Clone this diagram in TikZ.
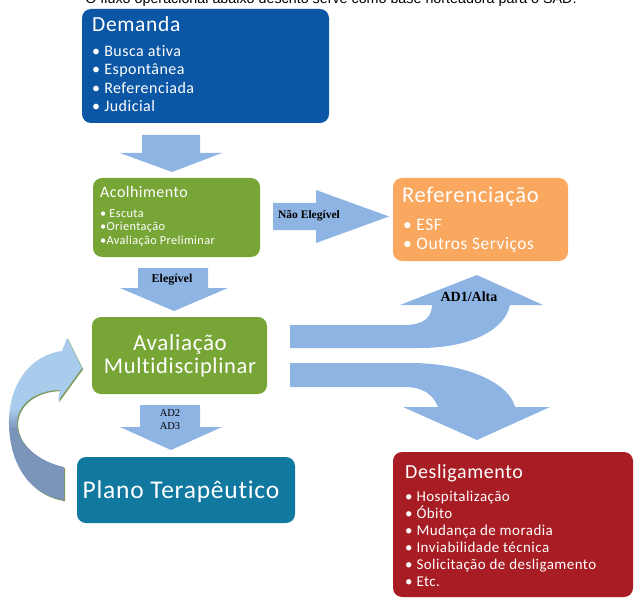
\documentclass[tikz,border=0pt]{standalone}
\usepackage{fontspec}
\setmainfont{Carlito}[LetterSpace=3, Ligatures={NoCommon}]
\newfontfamily\lblfont{Liberation Serif}
\newfontfamily\capfont{Liberation Sans}
\usepackage{xcolor}
\usepackage{tikz}
\usetikzlibrary{calc}
\definecolor{demBlue}{HTML}{0C57A5}
\definecolor{acoGreen}{HTML}{77A637}
\definecolor{refOrange}{HTML}{FAA75F}
\definecolor{planTeal}{HTML}{1178A0}
\definecolor{desRed}{HTML}{A81C23}
\definecolor{arrBlue}{HTML}{8EB4E3}
\definecolor{loopLight}{HTML}{A9CCEC}
\definecolor{loopDark}{HTML}{7B95BA}
\definecolor{loopEdge}{HTML}{7E9A5E}
\pgfdeclareverticalshading{loopshade}{100bp}{color(0bp)=(loopDark); color(47bp)=(loopDark); color(53bp)=(loopLight); color(100bp)=(loopLight)}
\tikzset{
  box/.style={rounded corners=9pt, inner sep=0pt},
  ttl/.style={text=white, anchor=base west, inner sep=0pt},
  itm/.style={text=white, anchor=base west, inner sep=0pt},
  ctr/.style={text=white, anchor=base, inner sep=0pt},
  lbl/.style={inner sep=0pt, font=\lblfont\bfseries\fontsize{12}{14}\selectfont},
  blockarrow/.style={fill=arrBlue}
}

\begin{document}
\begin{tikzpicture}[x=1pt,y=-1pt]
\useasboundingbox (0,0) rectangle (635,599);
\clip (0,0) rectangle (635,599);
% caption (cut by the top edge)
\node[anchor=base, inner sep=0pt, font=\capfont\fontsize{14.3}{16}\selectfont] (caption) at (331,3.5) {O fluxo operacional abaixo descrito serve como base norteadora para o SAD.};
% Demanda
\node[box, fill=demBlue, minimum width=247pt, minimum height=114pt] (demanda) at (205.5,66) {};
\node[ttl, font=\fontsize{21.5}{26}\selectfont] (demandaT) at (92,32) {Demanda};
\foreach \t [count=\i] in {Busca ativa, Espontânea, Referenciada, Judicial}
  \node[itm, font=\fontsize{16}{19}\selectfont] (demanda\i) at (92,38+18.5*\i) {• \t};
% arrow
\fill[blockarrow] (142,135) -- (200,135) -- (200,153) -- (222,153) -- (172,172) -- (120,153) -- (142,153) -- cycle;
% Acolhimento
\node[box, fill=acoGreen, minimum width=167pt, minimum height=79pt] (acolh) at (176.5,217.5) {};
\node[ttl, font=\fontsize{16}{19}\selectfont] (acolhT) at (100,198) {Acolhimento};
\foreach \t [count=\i] in {• Escuta, •Orientação, •Avaliação Preliminar}
  \node[itm, font=\fontsize{12.3}{14}\selectfont] (acolh\i) at (100,203.5+13.7*\i) {\t};
% Nao elegivel
\fill[blockarrow] (273,203) -- (316,203) -- (316,190) -- (389,216.5) -- (316,243) -- (316,230) -- (273,230) -- cycle;
\node[lbl, font=\lblfont\bfseries\fontsize{11.5}{13}\selectfont] (naoEleg) at (309,216) {Não Elegível};
% Referenciacao
\node[box, fill=refOrange, minimum width=175pt, minimum height=83pt] (refer) at (480.5,219.5) {};
\node[ttl, font=\fontsize{22.5}{27}\selectfont] (referT) at (402,203) {Referenciação};
\foreach \t [count=\i] in {ESF, Outros Serviços}
  \node[itm, font=\fontsize{17.5}{21}\selectfont] (refer\i) at (403,211+19*\i) {• \t};
% Elegivel
\fill[blockarrow] (138,268) -- (208,268) -- (208,288) -- (228,288) -- (174,311) -- (120,288) -- (138,288) -- cycle;
\node[lbl] (eleg) at (172,280) {Elegível};
% Avaliacao Multidisciplinar
\node[box, fill=acoGreen, minimum width=175pt, minimum height=77pt] (aval) at (179.5,355.5) {};
\node[ctr, font=\fontsize{23}{28}\selectfont] (avalA) at (180,350) {Avaliação};
\node[ctr, font=\fontsize{22.5}{28}\selectfont] (avalB) at (180,373) {Multidisciplinar};
% AD1/Alta
\fill[blockarrow] (290,325) -- (405,325) .. controls (425,325) and (432,316) .. (432,305)
  -- (400,305) -- (477,275) -- (543,305) -- (510,305) .. controls (505,330) and (470,348) .. (420,348)
  -- (290,348) -- cycle;
\node[lbl, font=\lblfont\bfseries\fontsize{14}{15}\selectfont] (ad1) at (469,297) {AD1/Alta};
% desligamento arrow
\fill[blockarrow] (290,363) -- (410,363) .. controls (470,363) and (510,385) .. (515,407)
  -- (550,407) -- (477,440) -- (403,407) -- (438,407) .. controls (433,394) and (422,387) .. (405,387)
  -- (290,387) -- cycle;
% AD2 AD3
\fill[blockarrow] (140,405) -- (200,405) -- (200,427) -- (222,427) -- (171,450) -- (120,427) -- (140,427) -- cycle;
\node[lbl, font=\lblfont\fontsize{10.5}{12}\selectfont] (ad2) at (170,413) {AD2};
\node[lbl, font=\lblfont\fontsize{10.5}{12}\selectfont] (ad3) at (170,426) {AD3};
% Plano Terapeutico
\node[box, fill=planTeal, minimum width=218pt, minimum height=66pt] (plano) at (186,490) {};
\node[ctr, font=\fontsize{25.5}{29}\selectfont] (planoT) at (181,498) {Plano Terapêutico};
% loop back arrow
\fill[loopEdge, shift={(1.2,1.2)}] (64,467) .. controls (40,462) and (18,445) .. (17,425)
  .. controls (16,405) and (35,390) .. (60,390) -- (58,401) -- (82,368) -- (67,338) -- (62,351)
  .. controls (30,355) and (8,385) .. (9,425) .. controls (10,465) and (30,495) .. (64,500) -- cycle;
\shade[shading=loopshade] (64,467) .. controls (40,462) and (18,445) .. (17,425)
  .. controls (16,405) and (35,390) .. (60,390) -- (58,401) -- (82,368) -- (67,338) -- (62,351)
  .. controls (30,355) and (8,385) .. (9,425) .. controls (10,465) and (30,495) .. (64,500) -- cycle;
% Desligamento
\node[box, fill=desRed, minimum width=240pt, minimum height=145pt] (desl) at (513,524.5) {};
\node[ttl, font=\fontsize{20}{25}\selectfont] (deslT) at (405,478) {Desligamento};
\foreach \t [count=\i] in {Hospitalização, Óbito, Mudança de moradia, Inviabilidade técnica, Solicitação de desligamento, Etc.}
  \node[itm, font=\fontsize{15}{17}\selectfont] (desl\i) at (405,484+17*\i) {• \t};
\end{tikzpicture}
\end{document}
